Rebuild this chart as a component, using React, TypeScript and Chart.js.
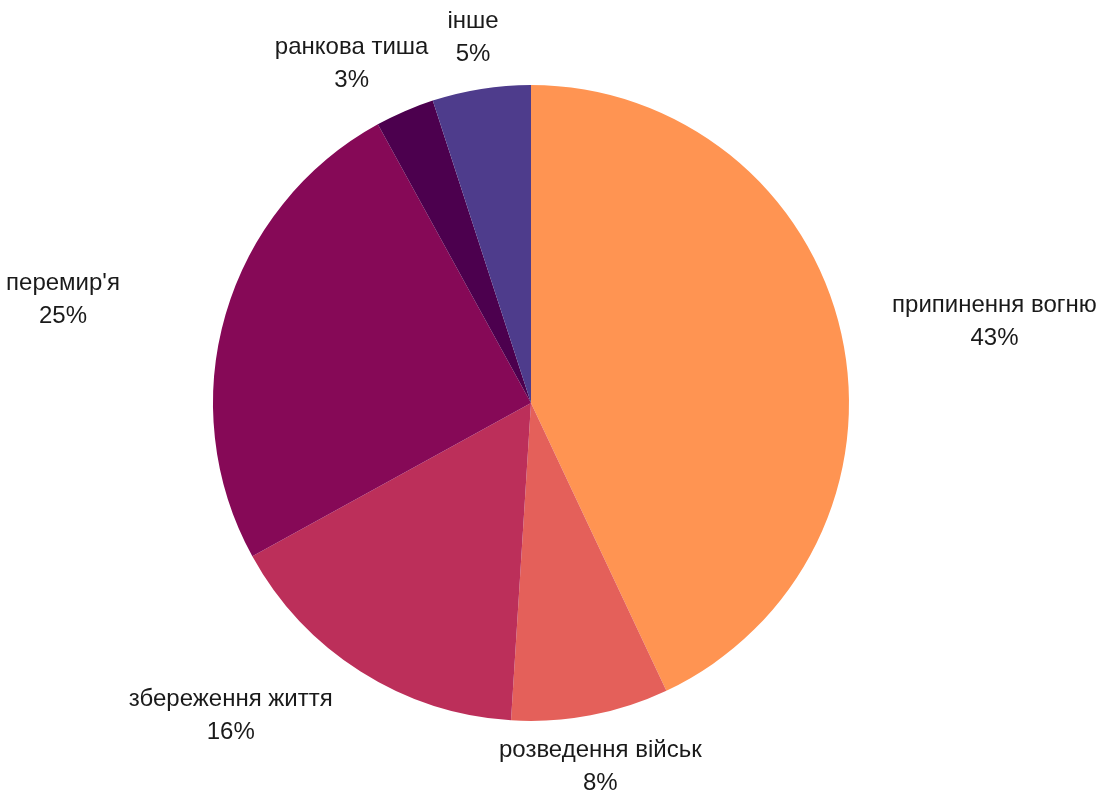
import React, { useEffect, useRef } from "react";
import { Chart, registerables } from "chart.js";

Chart.register(...registerables);

const categories = [
  "припинення вогню",
  "розведення військ",
  "збереження життя",
  "перемир'я",
  "ранкова тиша",
  "інше",
];
const values = [43, 8, 16, 25, 3, 5];
const sliceColors = ["#FF9452", "#E4605A", "#BC2F5A", "#860957", "#4C004E", "#4E3C8C"];

const FONT = "24px 'Liberation Sans', Arial, sans-serif";
const LABEL_GAP = 52;
const LINE_H = 33;

// width used for layout (the source tool measured an HTML-escaped label)
const layoutText = (s: string) => s.replace(/'/g, "&amp;#39;");

const outsideLabels = {
  id: "outsideLabels",
  afterDatasetsDraw(chart: any) {
    const ctx = chart.ctx;
    const meta = chart.getDatasetMeta(0);
    const data = chart.data.datasets[0].data as number[];
    const total = data.reduce((a, b) => a + b, 0);
    ctx.save();
    ctx.font = FONT;
    ctx.fillStyle = "#1a1a1a";
    ctx.textAlign = "center";
    ctx.textBaseline = "middle";
    meta.data.forEach((arc: any, i: number) => {
      const p = arc.getProps(["startAngle", "endAngle", "outerRadius", "x", "y"], true);
      const mid = (p.startAngle + p.endAngle) / 2;
      const ux = Math.cos(mid);
      const uy = Math.sin(mid);
      const r = p.outerRadius + LABEL_GAP;
      const px = p.x + ux * r;
      const py = p.y + uy * r;
      const name = chart.data.labels[i] as string;
      const pct = Math.round((data[i] / total) * 100) + "%";
      const w = Math.max(ctx.measureText(layoutText(name)).width, ctx.measureText(pct).width);
      const f = Math.sign(ux) * Math.min(1, Math.max(0, (Math.abs(ux) - 0.3) / 0.23));
      const cx = px + (f * w) / 2;
      ctx.fillText(name, cx, py - LINE_H / 2);
      ctx.fillText(pct, cx, py + LINE_H / 2);
    });
    ctx.restore();
  },
};

export default function App() {
  const ref = useRef<HTMLCanvasElement | null>(null);
  useEffect(() => {
    if (!ref.current) return;
    const chart = new Chart(ref.current, {
      type: "pie",
      data: {
        labels: categories,
        datasets: [
          {
            data: values,
            backgroundColor: sliceColors,
            borderWidth: 0,
          },
        ],
      },
      options: {
        responsive: false,
        animation: false,
        layout: { padding: { left: 213, right: 268, top: 85, bottom: 72 } },
        plugins: {
          legend: { display: false },
          tooltip: { enabled: false },
        },
      },
      plugins: [outsideLabels],
    });
    return () => chart.destroy();
  }, []);
  return (
    <div style={{ position: "absolute", left: 0, top: 0, width: 1117, height: 793, background: "#fff" }}>
      <canvas ref={ref} width={1117} height={793} />
    </div>
  );
}
